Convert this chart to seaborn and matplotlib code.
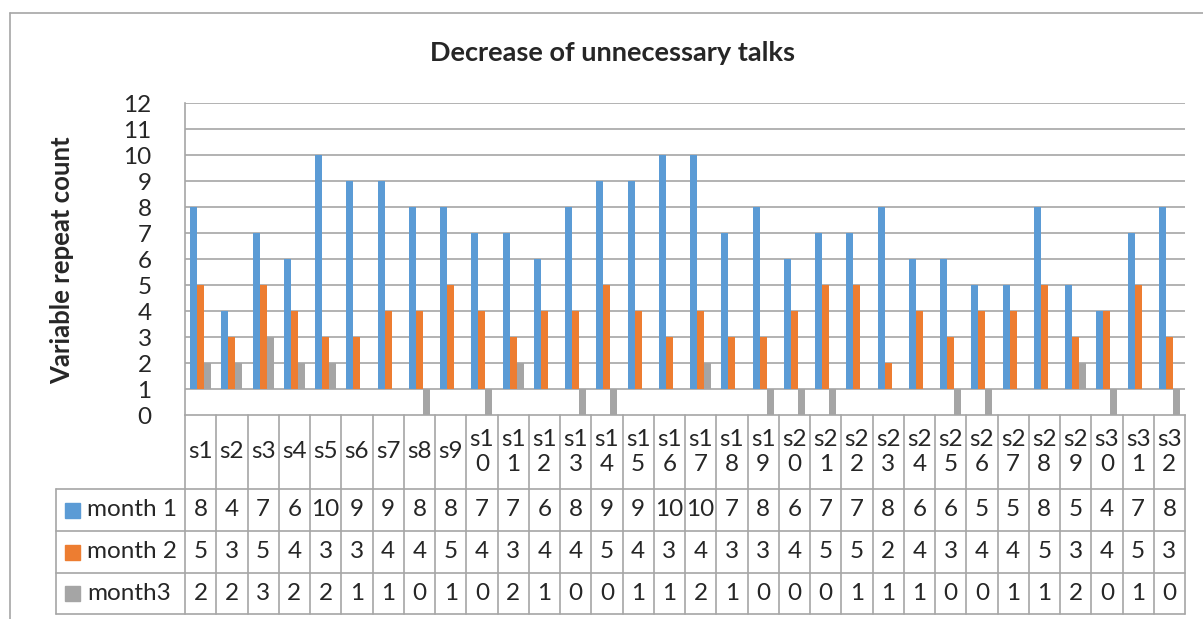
import numpy as np
import pandas as pd
import matplotlib
matplotlib.use("Agg")
import matplotlib.pyplot as plt
from matplotlib.patches import Rectangle
import seaborn as sns

students = ["s" + str(i) for i in range(1, 33)]
month1 = [8, 4, 7, 6, 10, 9, 9, 8, 8, 7, 7, 6, 8, 9, 9, 10, 10, 7, 8, 6, 7, 7, 8, 6, 6, 5, 5, 8, 5, 4, 7, 8]
month2 = [5, 3, 5, 4, 3, 3, 4, 4, 5, 4, 3, 4, 4, 5, 4, 3, 4, 3, 3, 4, 5, 5, 2, 4, 3, 4, 4, 5, 3, 4, 5, 3]
month3 = [2, 2, 3, 2, 2, 1, 1, 0, 1, 0, 2, 1, 0, 0, 1, 1, 2, 1, 0, 0, 0, 1, 1, 1, 0, 0, 1, 1, 2, 0, 1, 0]
series_names = ["month 1", "month 2", "month3"]
colors = ["#5B9BD5", "#ED7D31", "#A5A5A5"]

# horizontal axis crosses at 1 (excel style), bars grow from there
base = 1

df = pd.DataFrame({
    "student": students * 3,
    "series": np.repeat(series_names, len(students)),
    "value": month1 + month2 + month3,
})
df["height"] = df["value"] - base

sns.set_style("white")
plt.rcParams["font.family"] = ["Lato", "DejaVu Sans"]

W, H = 1203, 619
fig = plt.figure(figsize=(W / 100, H / 100), dpi=100)

# plot area in pixels
left, right, top, bottom = 185, 1185, 103, 415
ax = fig.add_axes([left / W, 1 - bottom / H, (right - left) / W, (bottom - top) / H])

sns.barplot(data=df, x="student", y="height", hue="series", palette=colors,
            width=0.67, gap=0, bottom=base, saturation=1, ax=ax, legend=False,
            linewidth=0, zorder=3)

fs = 17.5
ax.set_xlim(-0.5, len(students) - 0.5)
ax.set_ylim(0, 12)
ax.set_yticks(range(0, 13))
ax.set_yticklabels([str(i) for i in range(0, 13)], fontsize=fs)
ax.tick_params(axis="y", length=0, pad=24)
ax.set_xticks([])
ax.set_xlabel("")
ax.set_ylabel("")
for y in range(1, 13):
    ax.axhline(y, color="#A6A6A6", lw=1.2, zorder=1)
for s in ["top", "right"]:
    ax.spines[s].set_visible(False)
ax.spines["left"].set_color("#A6A6A6")
ax.spines["bottom"].set_color("#A6A6A6")
ax.spines["left"].set_linewidth(1.2)
ax.spines["bottom"].set_linewidth(1.2)

fig.text(612 / W, 1 - 53 / H, "Decrease of unnecessary talks", ha="center", va="center",
         fontsize=19.5, fontweight="bold")
fig.text(62 / W, 1 - 260 / H, "Variable repeat count", ha="center", va="center",
         rotation=90, fontsize=18.5, fontweight="bold")

# data table under the axis
tr = ax.get_xaxis_transform()
unit = bottom - top
def yf(px):
    return -(px - bottom) / unit

row_edges = [415, 489, 531, 573, 614]
x_left_label = -0.5 - (185 - 56) / ((right - left) / len(students))
n = len(students)
lc = "#A6A6A6"
# horizontal lines
for py in row_edges[1:]:
    ax.plot([x_left_label, n - 0.5], [yf(py), yf(py)], color=lc, lw=1.2, transform=tr, clip_on=False)
# vertical lines
for i in range(n + 1):
    ax.plot([i - 0.5, i - 0.5], [yf(415), yf(614)], color=lc, lw=1.2, transform=tr, clip_on=False)
ax.plot([x_left_label, x_left_label], [yf(489), yf(614)], color=lc, lw=1.2, transform=tr, clip_on=False)

# category labels (wrapped like excel)
for i, s in enumerate(students):
    lab = s if len(s) <= 2 else s[:2] + "\n" + s[2:]
    ax.text(i, yf(452), lab, ha="center", va="center", fontsize=fs, linespacing=1.25,
            transform=tr, clip_on=False)

# values
for r, vals in enumerate([month1, month2, month3]):
    yc_px = (row_edges[r + 1] + row_edges[r + 2]) / 2
    for i, v in enumerate(vals):
        ax.text(i, yf(yc_px), str(v), ha="center", va="center", fontsize=fs, transform=tr, clip_on=False)
    # legend key + name
    fig.patches.append(Rectangle((65 / W, 1 - (yc_px + 7.5) / H), 15 / W, 15 / H,
                                 transform=fig.transFigure, color=colors[r]))
    fig.text(87 / W, 1 - yc_px / H, series_names[r], ha="left", va="center", fontsize=fs)

# chart border (left and top edge visible in the crop)
fig.add_artist(plt.Line2D([10 / W, 10 / W], [0, 1 - 13 / H], color="#A6A6A6", lw=1.2))
fig.add_artist(plt.Line2D([10 / W, 1], [1 - 13 / H, 1 - 13 / H], color="#A6A6A6", lw=1.2))

fig.savefig("out.png", dpi=100)
